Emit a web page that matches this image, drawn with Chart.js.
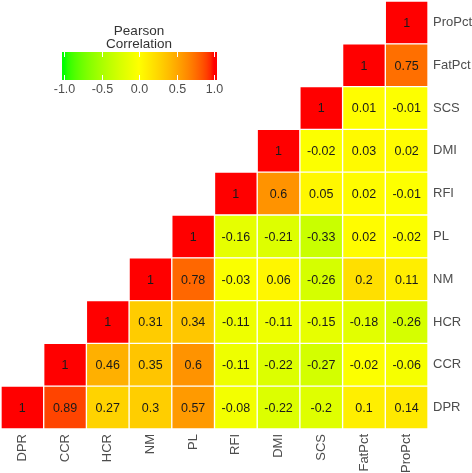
<!DOCTYPE html>
<html>
<head>
<meta charset="utf-8">
<script src="https://cdn.jsdelivr.net/npm/chart.js@4.4.0/dist/chart.umd.min.js"></script>
<style>
  html, body { margin: 0; padding: 0; background: #fff; }
  #wrap { width: 472px; height: 473px; }
</style>
</head>
<body>
<div id="wrap"><canvas id="corrChart" width="472" height="473"></canvas></div>
<script>
const traits = ['DPR', 'CCR', 'HCR', 'NM', 'PL', 'RFI', 'DMI', 'SCS', 'FatPct', 'ProPct'];

// each row starts at its own diagonal and runs to ProPct
const rowDPR    = [1, 0.89, 0.27, 0.3, 0.57, -0.08, -0.22, -0.2, 0.1, 0.14];
const rowCCR    = [1, 0.46, 0.35, 0.6, -0.11, -0.22, -0.27, -0.02, -0.06];
const rowHCR    = [1, 0.31, 0.34, -0.11, -0.11, -0.15, -0.18, -0.26];
const rowNM     = [1, 0.78, -0.03, 0.06, -0.26, 0.2, 0.11];
const rowPL     = [1, -0.16, -0.21, -0.33, 0.02, -0.02];
const rowRFI    = [1, 0.6, 0.05, 0.02, -0.01];
const rowDMI    = [1, -0.02, 0.03, 0.02];
const rowSCS    = [1, 0.01, -0.01];
const rowFatPct = [1, 0.75];
const rowProPct = [1];

const legendTicks = [-1.0, -0.5, 0.0, 0.5, 1.0];

const rows = [rowDPR, rowCCR, rowHCR, rowNM, rowPL, rowRFI, rowDMI, rowSCS, rowFatPct, rowProPct];

// green -> yellow -> red
function corrColor(v) {
    if (v >= 0) {
        const g = Math.round(255 * Math.pow(1 - v, 0.6));
        return 'rgb(255,' + g + ',0)';
    }
    const r = Math.round(255 * Math.pow(1 + v, 0.6));
    return 'rgb(' + r + ',255,0)';
}

function valueAt(r, c) {
    return rows[r][c - r];
}

const datasets = rows.map((row, r) => ({
    label: traits[r],
    data: traits.map((t, c) => (c >= r ? [r, r + 1] : null)),
    backgroundColor: ctx => (ctx.dataIndex >= r ? corrColor(valueAt(r, ctx.dataIndex)) : 'transparent'),
    borderColor: '#ffffff',
    borderWidth: 1,
    borderSkipped: false,
    barPercentage: 1,
    categoryPercentage: 1,
    grouped: false
}));

const cellText = {
    id: 'cellText',
    afterDatasetsDraw(chart) {
        const ctx = chart.ctx;
        const xs = chart.scales.x, ys = chart.scales.y;
        ctx.save();
        ctx.font = '12.5px "Liberation Sans", Arial, sans-serif';
        ctx.fillStyle = '#1a1a1a';
        ctx.textAlign = 'center';
        ctx.textBaseline = 'middle';
        rows.forEach((row, r) => {
            row.forEach((v, k) => {
                const c = r + k;
                ctx.fillText(String(v), xs.getPixelForValue(c), ys.getPixelForValue(r + 0.5) + 1);
            });
        });
        ctx.restore();
    }
};

const colorBar = {
    id: 'colorBar',
    afterDraw(chart) {
        const ctx = chart.ctx;
        const x0 = 62, x1 = 217, y0 = 52, y1 = 80;
        const tx0 = 64, tx1 = 214;
        ctx.save();
        const grad = ctx.createLinearGradient(tx0, 0, tx1, 0);
        for (let i = 0; i <= 40; i++) {
            grad.addColorStop(i / 40, corrColor(-1 + i / 20));
        }
        ctx.fillStyle = grad;
        ctx.fillRect(x0, y0, x1 - x0, y1 - y0);

        ctx.strokeStyle = '#ffffff';
        ctx.lineWidth = 1;
        ctx.font = '12.5px "Liberation Sans", Arial, sans-serif';
        ctx.fillStyle = '#4d4d4d';
        ctx.textAlign = 'center';
        ctx.textBaseline = 'middle';
        legendTicks.forEach(t => {
            const px = Math.round(tx0 + (t + 1) / 2 * (tx1 - tx0)) + 0.5;
            ctx.beginPath();
            ctx.moveTo(px, y0); ctx.lineTo(px, y0 + 5);
            ctx.moveTo(px, y1); ctx.lineTo(px, y1 - 5);
            ctx.stroke();
            ctx.fillText(t.toFixed(1), px, 90);
        });

        ctx.fillStyle = '#333333';
        ctx.font = '13.5px "Liberation Sans", Arial, sans-serif';
        ctx.fillText('Pearson', 139, 31);
        ctx.fillText('Correlation', 139, 44);
        ctx.restore();
    }
};

new Chart(document.getElementById('corrChart'), {
    type: 'bar',
    data: { labels: traits, datasets: datasets },
    options: {
        responsive: false,
        animation: false,
        layout: { padding: { top: 1, left: 1 } },
        plugins: {
            legend: { display: false },
            tooltip: { enabled: false }
        },
        scales: {
            x: {
                grid: { display: false, drawTicks: false },
                border: { display: false },
                ticks: {
                    maxRotation: 90,
                    minRotation: 90,
                    padding: 5,
                    color: '#4d4d4d',
                    font: { family: '"Liberation Sans", Arial, sans-serif', size: 13 }
                },
                afterFit: s => {
                    s.height = 44;
                    s.paddingLeft = 0;
                    s.paddingRight = 0;
                }
            },
            y: {
                position: 'right',
                min: 0,
                max: 10,
                grid: { display: false, drawTicks: false },
                border: { display: false },
                afterBuildTicks: s => { s.ticks = traits.map((t, i) => ({ value: i + 0.5 })); },
                ticks: {
                    padding: 5,
                    color: '#4d4d4d',
                    font: { family: '"Liberation Sans", Arial, sans-serif', size: 13 },
                    callback: v => traits[Math.floor(v)]
                },
                afterFit: s => {
                    s.width = 44;
                    s.paddingTop = 0;
                    s.paddingBottom = 0;
                }
            }
        }
    },
    plugins: [cellText, colorBar]
});
</script>
</body>
</html>
